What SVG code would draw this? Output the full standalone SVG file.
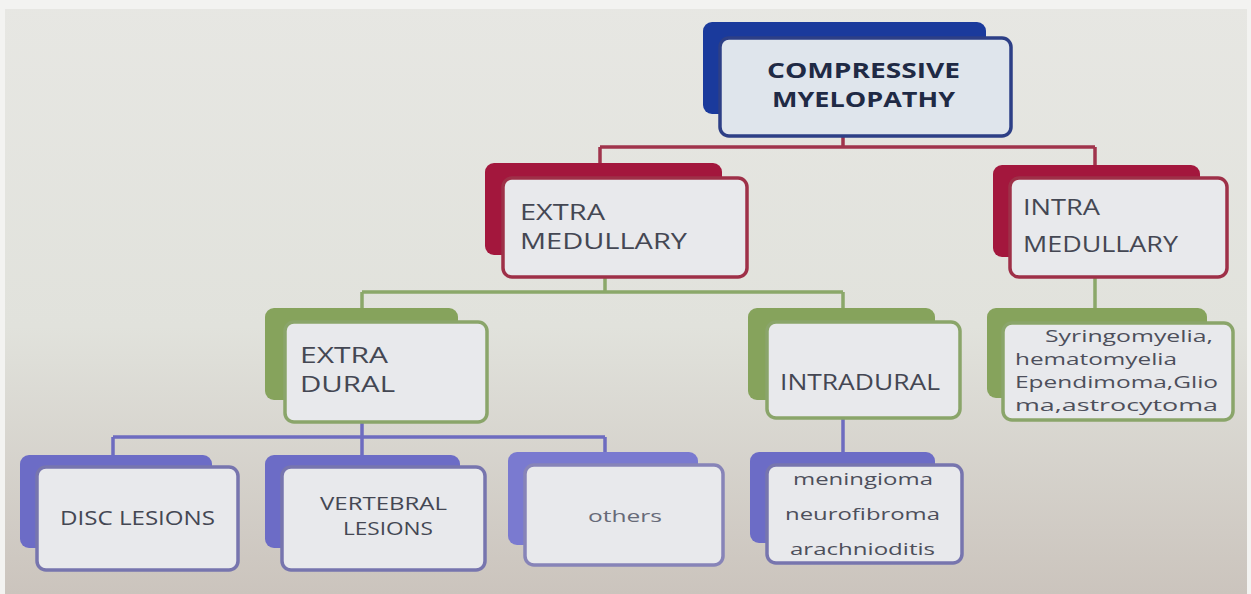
<svg xmlns="http://www.w3.org/2000/svg" width="1251" height="594" viewBox="0 0 1251 594">
<defs>
<linearGradient id="bg" x1="0" y1="0" x2="0" y2="1">
<stop offset="0" stop-color="#e7e7e3"/>
<stop offset="0.55" stop-color="#e1e2dc"/>
<stop offset="1" stop-color="#cbc4bd"/>
</linearGradient>
</defs>
<style>
.front{fill:#e8e9ec;stroke-width:3.5}
.t{font-family:"Open Sans","Liberation Sans",sans-serif;fill:#444753;font-size:21px}
.ts{font-family:"Open Sans","Liberation Sans",sans-serif;fill:#4d4f5b;font-size:17px}
.tb{font-family:"Open Sans","Liberation Sans",sans-serif;fill:#1f2a45;font-size:21px;font-weight:bold}
.blueB{fill:#1a3a9c}
.redB{fill:#a3173d}
.greenB{fill:#86a35c}
.violetB{fill:#6c6cc6}
.cr{stroke:#a0344c;stroke-width:3.5;fill:none}
.cg{stroke:#8ba86a;stroke-width:3.5;fill:none}
.cv{stroke:#6e6cc0;stroke-width:3.5;fill:none}
</style>
<rect x="0" y="0" width="1251" height="594" fill="url(#bg)"/>
<rect x="0" y="0" width="1251" height="9" fill="#f3f3f1"/>
<rect x="0" y="0" width="5" height="594" fill="#f3f3f1"/>
<rect x="1247" y="0" width="4" height="594" fill="#f3f3f1"/>

<g id="connectors">
<path class="cr" d="M843 137 V147 M600 147 H1095 M600 147 V164 M1095 147 V166"/>
<path class="cg" d="M605 277 V292 M362 292 H843 M362 292 V309 M843 292 V309 M1095 277 V308"/>
<path class="cv" d="M362 422 V437 M113 437 H605 M113 437 V456 M362 437 V456 M605 437 V453 M843 418 V453"/>
</g>

<g id="compressive">
<rect class="blueB" x="703" y="22" width="283" height="92" rx="9"/>
<rect class="front" x="720" y="38" width="291" height="98" rx="9" stroke="#2d3f86" style="fill:#dfe5ec"/>
<text class="tb" x="767" y="78" textLength="193" lengthAdjust="spacingAndGlyphs">COMPRESSIVE</text>
<text class="tb" x="772" y="107" textLength="183" lengthAdjust="spacingAndGlyphs">MYELOPATHY</text>
</g>

<g id="extra-medullary">
<rect class="redB" x="485" y="163" width="237" height="92" rx="9"/>
<rect class="front" x="503" y="178" width="244" height="99" rx="9" stroke="#9e3048"/>
<text class="t" x="520" y="220" textLength="85" lengthAdjust="spacingAndGlyphs">EXTRA</text>
<text class="t" x="520" y="249" textLength="167" lengthAdjust="spacingAndGlyphs">MEDULLARY</text>
</g>

<g id="intra-medullary">
<rect class="redB" x="993" y="165" width="207" height="92" rx="9"/>
<rect class="front" x="1010" y="178" width="217" height="99" rx="9" stroke="#9e3048"/>
<text class="t" x="1023" y="215" textLength="77" lengthAdjust="spacingAndGlyphs">INTRA</text>
<text class="t" x="1023" y="252" textLength="155" lengthAdjust="spacingAndGlyphs">MEDULLARY</text>
</g>

<g id="intra-medullary-list">
<rect class="greenB" x="987" y="308" width="220" height="90" rx="9"/>
<rect class="front" x="1003" y="323" width="230" height="97" rx="9" stroke="#8aa56a"/>
<text class="ts" x="1045" y="342" textLength="168" lengthAdjust="spacingAndGlyphs">Syringomyelia,</text>
<text class="ts" x="1015" y="365" textLength="162" lengthAdjust="spacingAndGlyphs">hematomyelia</text>
<text class="ts" x="1015" y="388" textLength="203" lengthAdjust="spacingAndGlyphs">Ependimoma,Glio</text>
<text class="ts" x="1015" y="411" textLength="203" lengthAdjust="spacingAndGlyphs">ma,astrocytoma</text>
</g>

<g id="extra-dural">
<rect class="greenB" x="265" y="308" width="193" height="92" rx="9"/>
<rect class="front" x="285" y="322" width="202" height="100" rx="9" stroke="#8aa56a"/>
<text class="t" x="300" y="363" textLength="88" lengthAdjust="spacingAndGlyphs">EXTRA</text>
<text class="t" x="300" y="392" textLength="95" lengthAdjust="spacingAndGlyphs">DURAL</text>
</g>

<g id="intradural">
<rect class="greenB" x="748" y="308" width="187" height="92" rx="9"/>
<rect class="front" x="767" y="322" width="193" height="96" rx="9" stroke="#8aa56a"/>
<text class="t" x="780" y="390" textLength="160" lengthAdjust="spacingAndGlyphs">INTRADURAL</text>
</g>

<g id="intradural-list">
<rect class="violetB" x="750" y="452" width="185" height="91" rx="9"/>
<rect class="front" x="767" y="465" width="195" height="98" rx="9" stroke="#7775ae"/>
<text class="ts" x="793" y="485" textLength="140" lengthAdjust="spacingAndGlyphs">meningioma</text>
<text class="ts" x="785" y="520" textLength="155" lengthAdjust="spacingAndGlyphs">neurofibroma</text>
<text class="ts" x="790" y="555" textLength="145" lengthAdjust="spacingAndGlyphs">arachnioditis</text>
</g>

<g id="disc-lesions">
<rect class="violetB" x="20" y="455" width="192" height="93" rx="9"/>
<rect class="front" x="37" y="467" width="201" height="103" rx="9" stroke="#7775ae"/>
<text class="t" x="60" y="525" textLength="155" lengthAdjust="spacingAndGlyphs" style="font-size:20px">DISC LESIONS</text>
</g>

<g id="vertebral-lesions">
<rect class="violetB" x="265" y="455" width="195" height="93" rx="9"/>
<rect class="front" x="282" y="467" width="203" height="103" rx="9" stroke="#7775ae"/>
<text class="t" x="320" y="510" textLength="127" lengthAdjust="spacingAndGlyphs" style="font-size:19px">VERTEBRAL</text>
<text class="t" x="343" y="535" textLength="90" lengthAdjust="spacingAndGlyphs" style="font-size:19px">LESIONS</text>
</g>

<g id="others">
<rect class="violetB" x="508" y="452" width="190" height="93" rx="9" style="fill:#7a7ad0"/>
<rect class="front" x="525" y="465" width="198" height="100" rx="9" stroke="#8784b8"/>
<text class="ts" x="588" y="522" textLength="74" lengthAdjust="spacingAndGlyphs" style="fill:#676a78">others</text>
</g>
</svg>
